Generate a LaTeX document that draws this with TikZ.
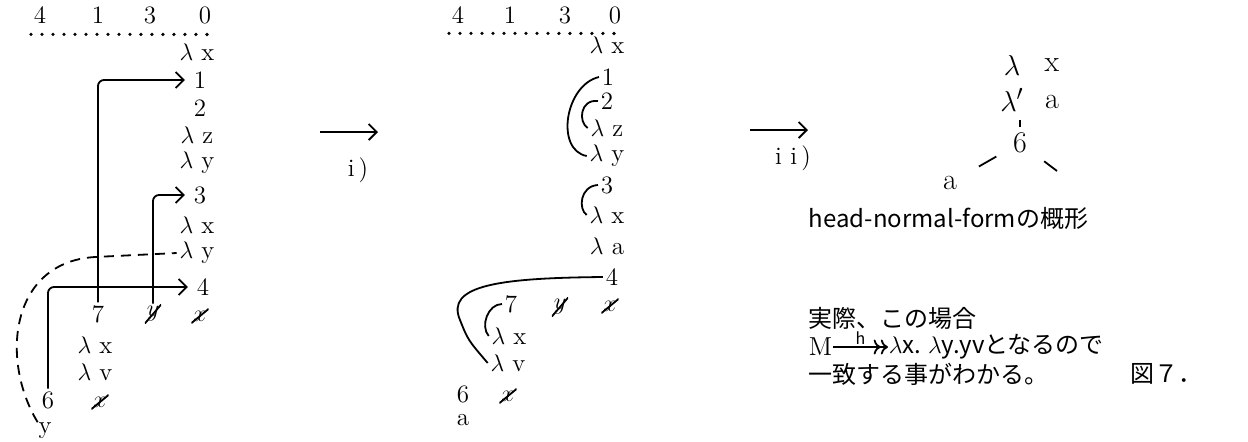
\documentclass[tikz,border=0pt]{standalone}
\usepackage{amsmath}
\usepackage{fontspec}
\newfontfamily\cjk{Noto Sans CJK JP}
\usetikzlibrary{calc, arrows.meta}

\tikzset{
  lbl/.style={inner sep=1pt, font=\fontsize{12.5}{14}\selectfont},
  big/.style={inner sep=1pt, font=\fontsize{15}{17}\selectfont},
  jp/.style={inner sep=0pt, anchor=west, font=\cjk\fontsize{12}{14}\selectfont},
  strike/.style={path picture={\draw[line width=0.9pt] (path picture bounding box.south west) -- (path picture bounding box.north east);}},
  dotline/.style={line width=1.8pt, line cap=round, dash pattern=on 0pt off 5.5pt},
  link/.style={-{Straight Barb[length=4pt]}, rounded corners=3pt},
}

\begin{document}
\begin{tikzpicture}[x=0.5pt, y=0.5pt, line width=0.9pt]
  \useasboundingbox (0,0) rectangle (1248,-441);

  % left: the term before i)
  \node[lbl] (t4) at (40,-15) {4};
  \node[lbl] (t1) at (98,-15) {1};
  \node[lbl] (t3) at (150,-15) {3};
  \node[lbl] (t0) at (205,-15) {0};
  \draw[dotline] ([yshift=-4pt]t4.south west) -- ([yshift=-4pt]t0.south east);
  \node[lbl] (a0) at (197,-52) {$\lambda$ x};
  \node[lbl] (a1) at (200,-80) {1};
  \node[lbl] (a2) at (200,-108) {2};
  \node[lbl] (a3) at (197,-135) {$\lambda$ z};
  \node[lbl] (a4) at (197,-163) {$\lambda$ y};
  \node[lbl] (a5) at (200,-195) {3};
  \node[lbl] (a6) at (197,-225) {$\lambda$ x};
  \node[lbl] (a7) at (197,-253) {$\lambda$ y};
  \node[lbl] (a8) at (203,-287) {4};
  \node[lbl] (b7) at (98,-314) {7};
  \node[lbl, strike] (by) at (153,-314) {$y$};
  \node[lbl, strike] (bx) at (200,-316) {$x$};
  \node[lbl] (c1) at (95,-345) {$\lambda$ x};
  \node[lbl] (c2) at (95,-372) {$\lambda$ v};
  \node[lbl] (d6) at (48,-400) {6};
  \node[lbl, strike] (dx) at (100,-402) {$x$};
  \node[lbl, inner sep=0pt] (dy) at (45,-431) {y};
  \draw[link, shorten >=3pt] (b7.north) |- (a1.west);
  \draw[link, shorten >=3pt] (by.north) |- (a5.west);
  \draw[link, shorten >=3pt] (d6.north) |- (a8.west);
  \draw[dash pattern=on 5pt off 3.5pt] (dy.north west) .. controls (0,-360) and (10,-262) .. (95,-257) -- (a7.west);

  % step i)
  \coordinate (s1a) at (320,-132);
  \coordinate (s1b) at (378,-132);
  \draw[-{Straight Barb[length=4pt]}] (s1a) -- (s1b);
  \node[lbl] (s1) at (358,-170) {i\,)};

  % middle: after i)
  \node[lbl] (u4) at (458,-15) {4};
  \node[lbl] (u1) at (510,-15) {1};
  \node[lbl] (u3) at (565,-15) {3};
  \node[lbl] (u0) at (615,-15) {0};
  \draw[dotline] ([yshift=-3.5pt]u4.south west) -- ([yshift=-3.5pt]u0.south east);
  \node[lbl] (m0) at (607,-45) {$\lambda$ x};
  \node[lbl] (m1) at (608,-77) {1};
  \node[lbl] (m2) at (607,-101) {2};
  \node[lbl] (m3) at (607,-128) {$\lambda$ z};
  \node[lbl] (m4) at (607,-156) {$\lambda$ y};
  \node[lbl] (m5) at (607,-185) {3};
  \node[lbl] (m6) at (607,-215) {$\lambda$ x};
  \node[lbl] (m7) at (607,-246) {$\lambda$ a};
  \node[lbl] (m8) at (612,-277) {4};
  \node[lbl] (n7) at (511,-304) {7};
  \node[lbl, strike] (ny) at (560,-307) {$y$};
  \node[lbl, strike] (nx) at (610,-306) {$x$};
  \node[lbl] (n1) at (509,-336) {$\lambda$ x};
  \node[lbl] (n2) at (508,-363) {$\lambda$ v};
  \node[lbl] (p6) at (463,-394) {6};
  \node[lbl, strike] (px) at (508,-396) {$x$};
  \node[lbl] (pa) at (463,-420) {a};
  \draw (m1.west) .. controls (565,-85) and (555,-150) .. (m4.west);
  \draw (m2.west) .. controls (580,-99) and (578,-122) .. (m3.west);
  \draw (m5.west) .. controls (580,-186) and (578,-209) .. (m6.west);
  \draw (m8.west) .. controls (500,-278) and (445,-285) .. (460,-320)
                  .. controls (468,-340) .. (n2.west);
  \draw (n7.west) .. controls (488,-304) and (480,-326) .. (n1.west);

  % step ii)
  \coordinate (s2a) at (750,-130);
  \coordinate (s2b) at (808,-130);
  \draw[-{Straight Barb[length=4pt]}] (s2a) -- (s2b);
  \node[lbl] (s2) at (793,-158) {i\,\,i\,)};

  % right: head normal form
  \node[big] (rl) at (1012,-65) {$\lambda$};
  \node[big] (rx) at (1052,-65) {x};
  \node[big] (rl2) at (1012,-100) {$\lambda'$};
  \node[big] (ra) at (1052,-102) {a};
  \node[big] (r6) at (1020,-143) {6};
  \node[big] (rA) at (950,-183) {a};
  \coordinate (rR) at (1057,-171);
  \draw[shorten <=8pt, shorten >=11pt] (r6) -- (rA);
  \draw[shorten <=9pt] (r6) -- (rR);
  \draw[shorten <=1.5pt, shorten >=3pt] (r6.north) -- (r6.north |- rl2.south);

  \node[jp] (hnf) at (808,-218) {head-normal-formの概形};
  \node[jp] (j1) at (808,-318) {実際、この場合};
  \node[jp, font=\fontsize{13}{15}\selectfont] (M) at (808,-347) {M};
  \node[jp] (res) at (888,-347) {$\lambda$x. $\lambda$y.yvとなるので};
  \draw[->>] (M.east) -- (res.west) node[midway, above, inner sep=1pt, font=\cjk\fontsize{8}{9}\selectfont] {h};
  \node[jp] (j3) at (808,-374) {一致する事がわかる。};
  \node[jp] (fig) at (1130,-374) {図７．};
\end{tikzpicture}
\end{document}
